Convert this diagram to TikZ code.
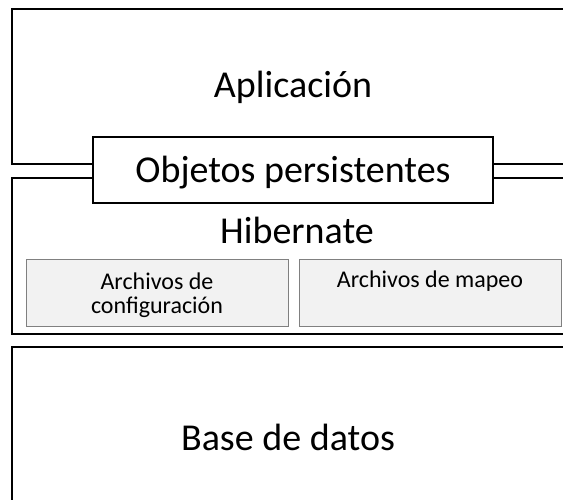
\documentclass[tikz,border=0pt]{standalone}
\usepackage{fontspec}
\setmainfont{Carlito}
\begin{document}
\begin{tikzpicture}[x=1pt,y=-1pt,
  capa/.style={line width=2pt},
  archivo/.style={draw=black!50,fill=black!5,line width=1pt,anchor=north west,
    minimum width=262pt,minimum height=67pt,inner sep=0pt},
  grande/.style={font=\fontsize{38}{44}\selectfont,anchor=base},
  chico/.style={font=\fontsize{24}{24}\selectfont,align=center,anchor=base}]
\clip (0,0) rectangle (563,499);
% objetos persistentes, between the two layers
\node[draw,line width=2pt,fill=white,minimum width=400pt,minimum height=66pt,
  inner sep=0pt] (obj) at (293,170) {};
\node[grande] (objtxt) at (293,182) {Objetos persistentes};
% aplicacion
\draw[capa] ([yshift=6pt]obj.west) -- (12,164) -- (12,9) -- (570,9);
\draw[capa] ([yshift=6pt]obj.east) -- (570,164);
\node[grande] (apl) at (293,97) {Aplicación};
% hibernate
\draw[capa] ([yshift=-8pt]obj.west) -- (12,178) -- (12,334) -- (570,334);
\draw[capa] ([yshift=-8pt]obj.east) -- (570,178);
\node[grande] (hib) at (297,243) {Hibernate};
\node[archivo] (conf) at (26,259) {};
\node[chico] (conftxt) at (157,313) {Archivos de\\configuración};
\node[archivo] (map) at (299,259) {};
\node[chico] (maptxt) at (430,287) {Archivos de mapeo};
% base de datos
\draw[capa] (570,347) -- (12,347) -- (12,510);
\node[grande] (bd) at (288,450) {Base de datos};
\end{tikzpicture}
\end{document}
